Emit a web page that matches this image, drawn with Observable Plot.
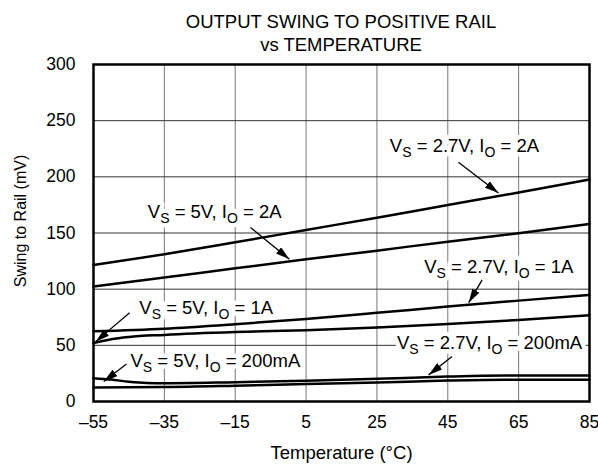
<!DOCTYPE html>
<html><head><meta charset="utf-8">
<script src="https://cdn.jsdelivr.net/npm/d3@7"></script>
<script src="https://cdn.jsdelivr.net/npm/@observablehq/plot@0.6"></script>
<style>
body{margin:0;background:#fff;font-family:"Liberation Sans",Arial,sans-serif;}
#wrap{position:relative;width:598px;height:466px;}
#title{position:absolute;left:93px;top:0;width:496px;padding-top:10px;text-align:center;font-size:18.5px;line-height:23px;color:#000;}
</style></head><body>
<div id="wrap">
<div id="chart"></div>
<div id="title">OUTPUT SWING TO POSITIVE RAIL<br>vs TEMPERATURE</div>
</div>
<script>
// ---- data ----
const xTicks = [-55, -35, -15, 5, 25, 45, 65, 85];
const xTickLabels = ["–55", "–35", "–15", "5", "25", "45", "65", "85"];
const yTicks = [0, 50, 100, 150, 200, 250, 300];
const xLabel = "Temperature (°C)";
const yLabel = "Swing to Rail (mV)";

const temps = [-55, -35, -15, 5, 25, 45, 65, 85];
const vs27_io2A = [121.5, 131, 141.7, 152.7, 163.6, 174.9, 186, 197.7];
const vs5_io2A = [102.3, 110.3, 118.6, 126.6, 134.3, 142.3, 149.7, 158];
const vs27_io1A = [62.5, 64.8, 68.8, 73.5, 78.9, 84.5, 89.8, 94.9];

const tempsD = [-55, -50, -45, -35, -15, 5, 25, 45, 65, 85];
const vs5_io1A = [52, 55.5, 57.5, 59.3, 61.8, 63.5, 65.8, 69, 72.6, 76.8];

const tempsE = [-55, -50, -45, -40, -35, -15, 5, 25, 45, 55, 65, 85];
const vs5_io200mA = [20.8, 19.5, 17.6, 16.5, 16.3, 17.2, 18.4, 20.2, 22.2, 22.9, 23.1, 23.1];

const tempsF = [-55, -35, -15, 5, 25, 45, 55, 65, 85];
const vs27_io200mA = [12.5, 12.8, 14, 15.5, 16.9, 18.7, 19.2, 19.3, 19.3];

// annotation labels (data coordinates)
const annoLabels = ["V_S = 2.7V, I_O = 2A", "V_S = 5V, I_O = 2A", "V_S = 5V, I_O = 1A",
                    "V_S = 2.7V, I_O = 1A", "V_S = 5V, I_O = 200mA", "V_S = 2.7V, I_O = 200mA"];
const annoX = [49.7, -20.8, -23.2, 59.4, -20.6, 56.8];
const annoY = [227, 168.7, 83.3, 120, 35.6, 51.9];
const arrowX1 = [48, -10.7, -44.8, 54.7, -45.7, 46.2];
const arrowY1 = [213, 155, 78.9, 108.2, 33.3, 40];
const arrowX2 = [59.3, 0.3, -54.4, 50.9, -52.1, 39.6];
const arrowY2 = [185.6, 126.6, 53.3, 88, 17.8, 23.7];

// ---- tables ----
const series = [
  ["A", temps, vs27_io2A], ["B", temps, vs5_io2A], ["C", temps, vs27_io1A],
  ["D", tempsD, vs5_io1A], ["E", tempsE, vs5_io200mA], ["F", tempsF, vs27_io200mA]
];
const rows = series.flatMap(([s, ts, vs]) => ts.map((t, i) => ({s, t, v: vs[i]})));
const annos = annoLabels.map((label, i) => ({label, x: annoX[i], y: annoY[i]}));
const arrows = arrowX1.map((x1, i) => ({x1, y1: arrowY1[i], x2: arrowX2[i], y2: arrowY2[i]}));

const FONT = '"Liberation Sans", Arial, sans-serif';
const svg = Plot.plot({
  width: 598, height: 466,
  marginTop: 64, marginBottom: 65, marginLeft: 93, marginRight: 9,
  style: {fontSize: "17.5px", fontFamily: FONT, color: "#000", background: "#fff"},
  x: {domain: [-55, 85]},
  y: {domain: [0, 300]},
  marks: [
    Plot.gridX(xTicks, {stroke: "#777", strokeOpacity: 1, strokeWidth: 1}),
    Plot.gridY(yTicks, {stroke: "#333", strokeOpacity: 1, strokeWidth: 1}),
    Plot.axisX(xTicks, {tickSize: 0, tickPadding: 14, label: null, fontSize: 17.5,
      tickFormat: d => xTickLabels[xTicks.indexOf(d)]}),
    Plot.axisY(yTicks, {tickSize: 0, tickPadding: 18, label: null, fontSize: 17.5}),
    // halo behind labels (cuts the grid lines)
    Plot.text(annos, {x: "x", y: "y", text: "label", fontSize: 18.5, fill: "white",
      stroke: "white", strokeWidth: 9, lineAnchor: "middle", textAnchor: "middle"}),
    Plot.text(annos, {x: "x", y: "y", text: "label", fontSize: 18.5, fill: "black",
      lineAnchor: "middle", textAnchor: "middle"}),
    Plot.line(rows, {x: "t", y: "v", z: "s", stroke: "black", strokeWidth: 2.5, curve: "monotone-x"}),
    Plot.link(arrows, {x1: "x1", y1: "y1", x2: "x2", y2: "y2", stroke: "black", strokeWidth: 1.3}),
    Plot.frame({stroke: "black", strokeWidth: 2.5}),
    Plot.text([xLabel], {frameAnchor: "bottom", dy: 52, fontSize: 18.5, lineAnchor: "middle", textAnchor: "middle"}),
    Plot.text([yLabel], {frameAnchor: "left", dx: -73, dy: -12, rotate: -90, fontSize: 16, lineAnchor: "middle", textAnchor: "middle"})
  ]
});

// subscripts
svg.querySelectorAll("text").forEach(t => {
  const s = t.textContent;
  if (!s.includes("_")) return;
  t.textContent = "";
  s.split(/_(.)/).forEach((p, i) => {
    const ts = document.createElementNS("http://www.w3.org/2000/svg", "tspan");
    ts.textContent = p;
    if (i % 2 === 1) { ts.setAttribute("font-size", 14); ts.setAttribute("dy", 5); }
    else if (i > 0) { ts.setAttribute("dy", -5); }
    t.appendChild(ts);
  });
});

// filled arrowheads
const defs = d3.select(svg).insert("defs", ":first-child");
defs.append("marker").attr("id", "ah").attr("viewBox", "0 -4 14 8")
  .attr("refX", 14).attr("refY", 0).attr("markerWidth", 14).attr("markerHeight", 8)
  .attr("markerUnits", "userSpaceOnUse").attr("orient", "auto")
  .append("path").attr("d", "M0,-4L14,0L0,4Z").attr("fill", "black");
d3.select(svg).selectAll('g[aria-label="link"] path').attr("marker-end", "url(#ah)");

document.getElementById("chart").appendChild(svg);
</script>
</body></html>
